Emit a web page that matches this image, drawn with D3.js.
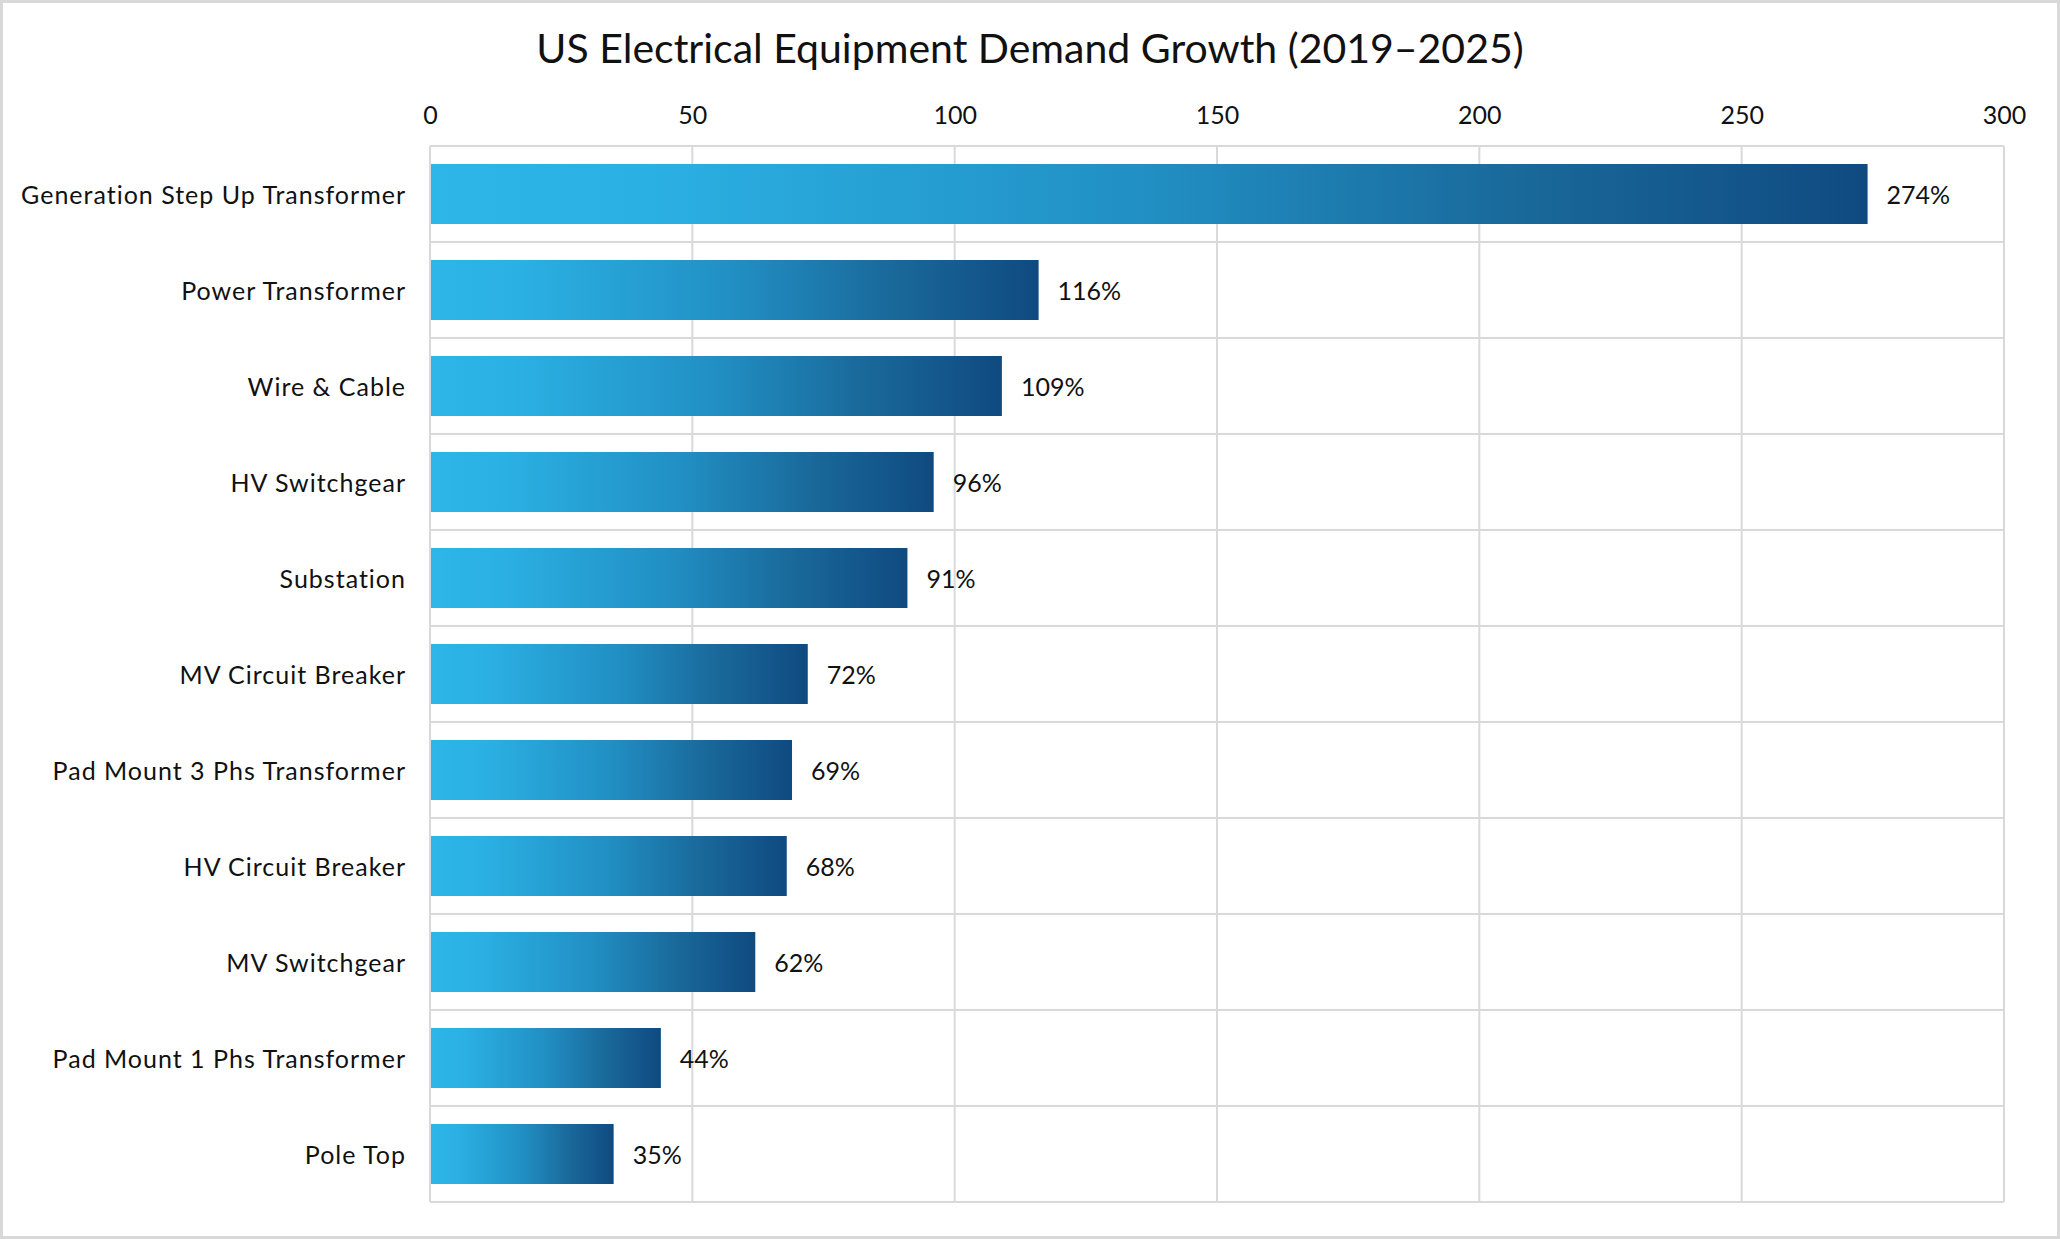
<!DOCTYPE html>
<html>
<head>
<meta charset="utf-8">
<script src="https://cdn.jsdelivr.net/npm/d3@7/dist/d3.min.js"></script>
<style>
  html, body { margin: 0; padding: 0; background: #fff; }
  svg text { font-family: Lato, "Open Sans", sans-serif; fill: #111; font-variant-ligatures: none; }
</style>
</head>
<body>
<svg id="chart"></svg>
<script>
// data
const categories = [
  "Generation Step Up Transformer",
  "Power Transformer",
  "Wire & Cable",
  "HV Switchgear",
  "Substation",
  "MV Circuit Breaker",
  "Pad Mount 3 Phs Transformer",
  "HV Circuit Breaker",
  "MV Switchgear",
  "Pad Mount 1 Phs Transformer",
  "Pole Top"
];
const growth = [274, 116, 109, 96, 91, 72, 69, 68, 62, 44, 35];
const xTicks = [0, 50, 100, 150, 200, 250, 300];
const titleText = "US Electrical Equipment Demand Growth (2019\u20132025)";

const [W, H] = [2060, 1239];
const margin = {top: 146, right: 56, bottom: 37, left: 430};

const svg = d3.select("#chart").attr("width", W).attr("height", H);

// outer frame
svg.append("rect").attr("x", 1.5).attr("y", 1.5)
  .attr("width", W - 3).attr("height", H - 3)
  .attr("fill", "#fff").attr("stroke", "#d9d9d9").attr("stroke-width", 3);

// gradient for bars
const grad = svg.append("defs").append("linearGradient")
  .attr("id", "barGrad").attr("x1", "0%").attr("x2", "100%").attr("y1", "0%").attr("y2", "0%");
[["0%", "#2db6e8"], ["15%", "#2bb0e3"], ["50%", "#218fc3"], ["75%", "#1a6a9c"], ["100%", "#0f4a80"]]
  .forEach(s => grad.append("stop").attr("offset", s[0]).attr("stop-color", s[1]));

const x = d3.scaleLinear().domain([0, 300]).range([margin.left, W - margin.right]);
const y = d3.scaleBand().domain(categories)
  .range([margin.top, H - margin.bottom])
  .paddingInner(0.375).paddingOuter(0.1875);

const step = y.step();
const gridColor = "#d9d9d9";

// vertical gridlines
svg.append("g").selectAll("line").data(xTicks).enter().append("line")
  .attr("x1", d => x(d)).attr("x2", d => x(d))
  .attr("y1", margin.top).attr("y2", H - margin.bottom)
  .attr("stroke", gridColor).attr("stroke-width", 2);

// horizontal gridlines at category boundaries
const bounds = d3.range(categories.length + 1).map(i => margin.top + i * step);
svg.append("g").selectAll("line").data(bounds).enter().append("line")
  .attr("x1", x(0)).attr("x2", x(300))
  .attr("y1", d => d).attr("y2", d => d)
  .attr("stroke", gridColor).attr("stroke-width", 2);

// top axis labels
const xAxis = d3.axisTop(x).tickValues(xTicks).tickSize(0).tickPadding(22);
const gx = svg.append("g").attr("transform", `translate(0, ${margin.top})`).call(xAxis);
gx.select(".domain").remove();
gx.selectAll("text").style("font-size", "25px").attr("fill", "#111");

// category labels
const yAxis = d3.axisLeft(y).tickSize(0).tickPadding(24);
const gy = svg.append("g").attr("transform", `translate(${margin.left}, 0)`).call(yAxis);
gy.select(".domain").remove();
gy.selectAll("text").style("font-size", "25px").style("letter-spacing", "1px")
  .attr("dy", "0.38em").attr("fill", "#111");

// bars
const rows = categories.map((c, i) => ({cat: c, val: growth[i]}));
svg.append("g").selectAll("rect").data(rows).enter().append("rect")
  .attr("x", x(0) + 1)
  .attr("y", d => y(d.cat))
  .attr("width", d => x(d.val) - x(0) - 1)
  .attr("height", y.bandwidth())
  .attr("fill", "url(#barGrad)");

// value labels
svg.append("g").selectAll("text").data(rows).enter().append("text")
  .attr("x", d => x(d.val) + 19)
  .attr("y", d => y(d.cat) + y.bandwidth() / 2)
  .attr("dy", "0.38em")
  .style("font-size", "25px")
  .text(d => d.val + "%");

// title
svg.append("text").attr("x", W / 2).attr("y", 63)
  .attr("text-anchor", "middle")
  .style("font-size", "41px")
  .text(titleText);
</script>
</body>
</html>
